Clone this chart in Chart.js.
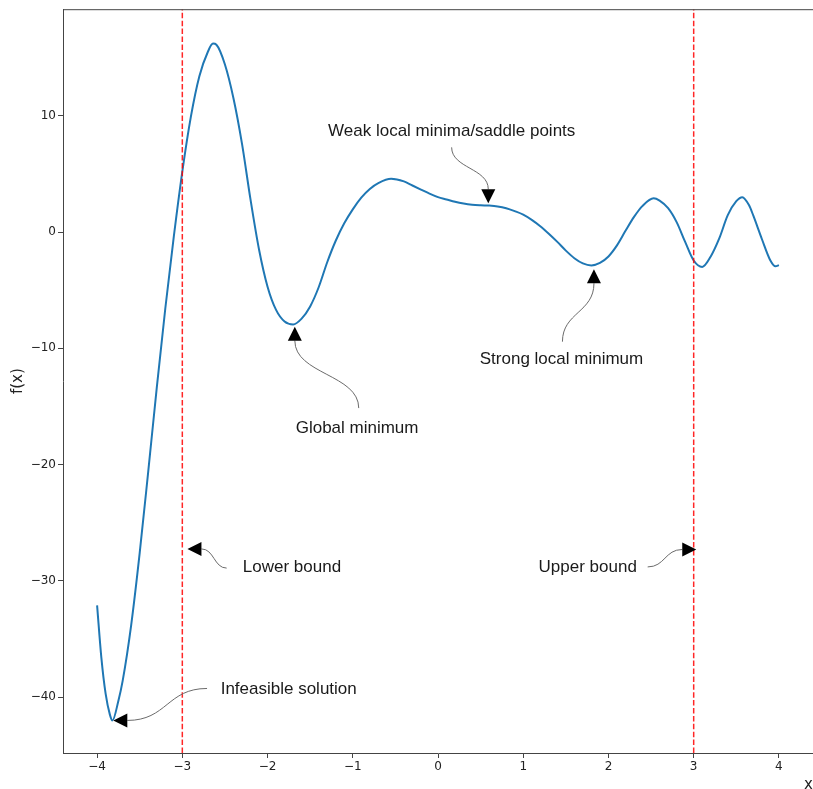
<!DOCTYPE html>
<html>
<head>
<meta charset="utf-8">
<script src="https://cdn.jsdelivr.net/npm/chart.js@4.4.1/dist/chart.umd.min.js"></script>
<style>
  html, body { margin: 0; padding: 0; background: #fff; }
  canvas { display: block; }
</style>
</head>
<body>
<canvas id="chart" width="813" height="789"></canvas>
<script>
// values
const xs = [-4.0, -3.95, -3.9, -3.85, -3.82, -3.75, -3.7, -3.6, -3.5, -3.4, -3.3, -3.2, -3.1, -3.0,
  -2.9, -2.8, -2.7, -2.64, -2.6, -2.5, -2.4, -2.3, -2.2, -2.1, -2.0, -1.9, -1.8, -1.7, -1.6, -1.5,
  -1.4, -1.3, -1.2, -1.1, -1.0, -0.9, -0.8, -0.7, -0.55, -0.4, -0.3, -0.2, -0.1, 0.0, 0.1, 0.2,
  0.3, 0.4, 0.5, 0.6, 0.7, 0.8, 0.9, 1.0, 1.1, 1.2, 1.3, 1.4, 1.5, 1.6, 1.7, 1.8, 1.9, 2.0, 2.1,
  2.2, 2.3, 2.4, 2.53, 2.6, 2.7, 2.8, 2.9, 3.0, 3.1, 3.2, 3.3, 3.4, 3.5, 3.57, 3.65, 3.7, 3.8,
  3.9, 3.96, 4.0];
const fx = [-32.1, -36.6, -39.7, -41.5, -42.0, -40.3, -38.6, -33.8, -27.6, -20.6, -13.4, -6.6, -0.4, 5.2,
  9.9, 13.4, 15.5, 16.2, 16.1, 14.4, 11.5, 7.6, 2.8, -1.5, -4.7, -6.7, -7.7, -7.95, -7.45, -6.4,
  -4.75, -2.6, -0.75, 0.75, 1.95, 2.95, 3.7, 4.2, 4.57, 4.35, 4.0, 3.65, 3.3, 3.0, 2.8, 2.6,
  2.45, 2.35, 2.3, 2.27, 2.2, 2.05, 1.8, 1.5, 1.05, 0.5, -0.15, -0.85, -1.6, -2.25, -2.7, -2.87, -2.65, -2.1, -1.15,
  0.1, 1.3, 2.25, 2.9, 2.7, 2.05, 0.85, -0.85, -2.45, -3.0, -2.1, -0.55, 1.45, 2.65, 3.0, 2.3, 1.4, -0.6,
  -2.45, -2.95, -2.85];
const bounds = [-3, 3];
const xTicks = [-4, -3, -2, -1, 0, 1, 2, 3, 4];
const yTicks = [-40, -30, -20, -10, 0, 10];

const X_MIN = -4.4, X_MAX = 4.4, Y_MIN = -44.8, Y_MAX = 19.16;

// annotation texts with their arrows (data coordinates)
const notes = [
  { label: "Weak local minima/saddle points", at: [-1.29, 8.65], tail: [0.16, 7.28], tip: [0.59, 2.48], bend: "v" },
  { label: "Strong local minimum", at: [0.49, -10.96], tail: [1.46, -9.43], tip: [1.83, -3.2], bend: "v" },
  { label: "Global minimum", at: [-1.67, -16.85], tail: [-0.93, -15.14], tip: [-1.68, -8.14], bend: "v" },
  { label: "Lower bound", at: [-2.29, -28.8], tail: [-2.48, -28.9], tip: [-2.94, -27.25], bend: "h" },
  { label: "Upper bound", at: [1.18, -28.8], tail: [2.46, -28.8], tip: [3.03, -27.3], bend: "h" },
  { label: "Infeasible solution", at: [-2.55, -39.33], tail: [-2.71, -39.25], tip: [-3.81, -42.0], bend: "h" }
];

function minus(v) {
  return String(v).replace("-", "\u2212");
}

const arrowNotes = {
  id: "arrowNotes",
  beforeDraw(chart) {
    const ctx = chart.ctx;
    ctx.save();
    ctx.fillStyle = "#fff";
    ctx.fillRect(0, 0, chart.width, chart.height);
    ctx.restore();
  },
  afterDatasetsDraw(chart) {
    const { ctx, scales: { x, y } } = chart;
    ctx.save();
    notes.forEach(n => {
      const x0 = x.getPixelForValue(n.tail[0]), y0 = y.getPixelForValue(n.tail[1]);
      const x1 = x.getPixelForValue(n.tip[0]), y1 = y.getPixelForValue(n.tip[1]);
      const head = 14, half = 7;
      let ux = 0, uy = 0;
      if (n.bend === "h") ux = Math.sign(x1 - x0); else uy = Math.sign(y1 - y0);
      const bx = x1 - ux * head, by = y1 - uy * head;

      ctx.beginPath();
      ctx.moveTo(x0, y0);
      if (n.bend === "h") {
        const mx = (x0 + bx) / 2;
        ctx.bezierCurveTo(mx, y0, mx, by, bx, by);
      } else {
        const my = (y0 + by) / 2;
        ctx.bezierCurveTo(x0, my, bx, my, bx, by);
      }
      ctx.strokeStyle = "#6b6b6b";
      ctx.lineWidth = 1;
      ctx.stroke();

      ctx.beginPath();
      ctx.moveTo(x1, y1);
      ctx.lineTo(bx - uy * half, by + ux * half);
      ctx.lineTo(bx + uy * half, by - ux * half);
      ctx.closePath();
      ctx.fillStyle = "#000";
      ctx.fill();

      ctx.font = '17px "Liberation Sans", Arial, sans-serif';
      ctx.fillStyle = "#1a1a1a";
      ctx.textAlign = "left";
      ctx.textBaseline = "middle";
      ctx.fillText(n.label, x.getPixelForValue(n.at[0]), y.getPixelForValue(n.at[1]));
    });

    // top spine
    const a = chart.chartArea;
    ctx.beginPath();
    ctx.moveTo(a.left, a.top + 0.5);
    ctx.lineTo(a.right, a.top + 0.5);
    ctx.strokeStyle = "#444";
    ctx.lineWidth = 1;
    ctx.stroke();
    ctx.restore();
  }
};

const boundSets = bounds.map(b => ({
  data: [{ x: b, y: Y_MIN }, { x: b, y: Y_MAX }],
  borderColor: "rgba(255,0,0,0.85)",
  borderWidth: 1.5,
  borderDash: [5.5, 2.4],
  pointRadius: 0,
  order: 1
}));

new Chart(document.getElementById("chart"), {
  type: "line",
  data: {
    datasets: [{
      data: xs.map((v, i) => ({ x: v, y: fx[i] })),
      borderColor: "#1f77b4",
      borderWidth: 2,
      pointRadius: 0,
      cubicInterpolationMode: "monotone",
      order: 2
    }, ...boundSets]
  },
  options: {
    responsive: false,
    animation: false,
    layout: { padding: { top: 6, right: 0, bottom: 0, left: 0 } },
    plugins: {
      legend: { display: false },
      tooltip: { enabled: false }
    },
    scales: {
      x: {
        type: "linear",
        min: X_MIN,
        max: X_MAX,
        afterBuildTicks: s => { s.ticks = xTicks.map(v => ({ value: v })); },
        afterFit: s => { s.height = 36; },
        grid: { drawOnChartArea: false, tickLength: 5, tickColor: "#444" },
        border: { display: true, color: "#444", width: 1 },
        ticks: {
          padding: 2,
          color: "#222",
          font: { family: "DejaVu Sans", size: 12 },
          callback: v => minus(v)
        },
        title: {
          display: true,
          text: "x",
          align: "end",
          color: "#222",
          font: { family: "DejaVu Sans", size: 15 },
          padding: { top: 0, bottom: -5 }
        }
      },
      y: {
        type: "linear",
        min: Y_MIN,
        max: Y_MAX,
        afterBuildTicks: s => { s.ticks = yTicks.map(v => ({ value: v })); },
        afterFit: s => { s.width = 63; },
        grid: { drawOnChartArea: false, tickLength: 5, tickColor: "#444" },
        border: { display: true, color: "#444", width: 1 },
        ticks: {
          padding: 2,
          color: "#222",
          font: { family: "DejaVu Sans", size: 12 },
          callback: v => minus(v)
        },
        title: {
          display: true,
          text: "f(x)",
          color: "#222",
          font: { family: "DejaVu Sans", size: 15 },
          padding: { top: 9, bottom: 0 }
        }
      }
    }
  },
  plugins: [arrowNotes]
});
</script>
</body>
</html>
